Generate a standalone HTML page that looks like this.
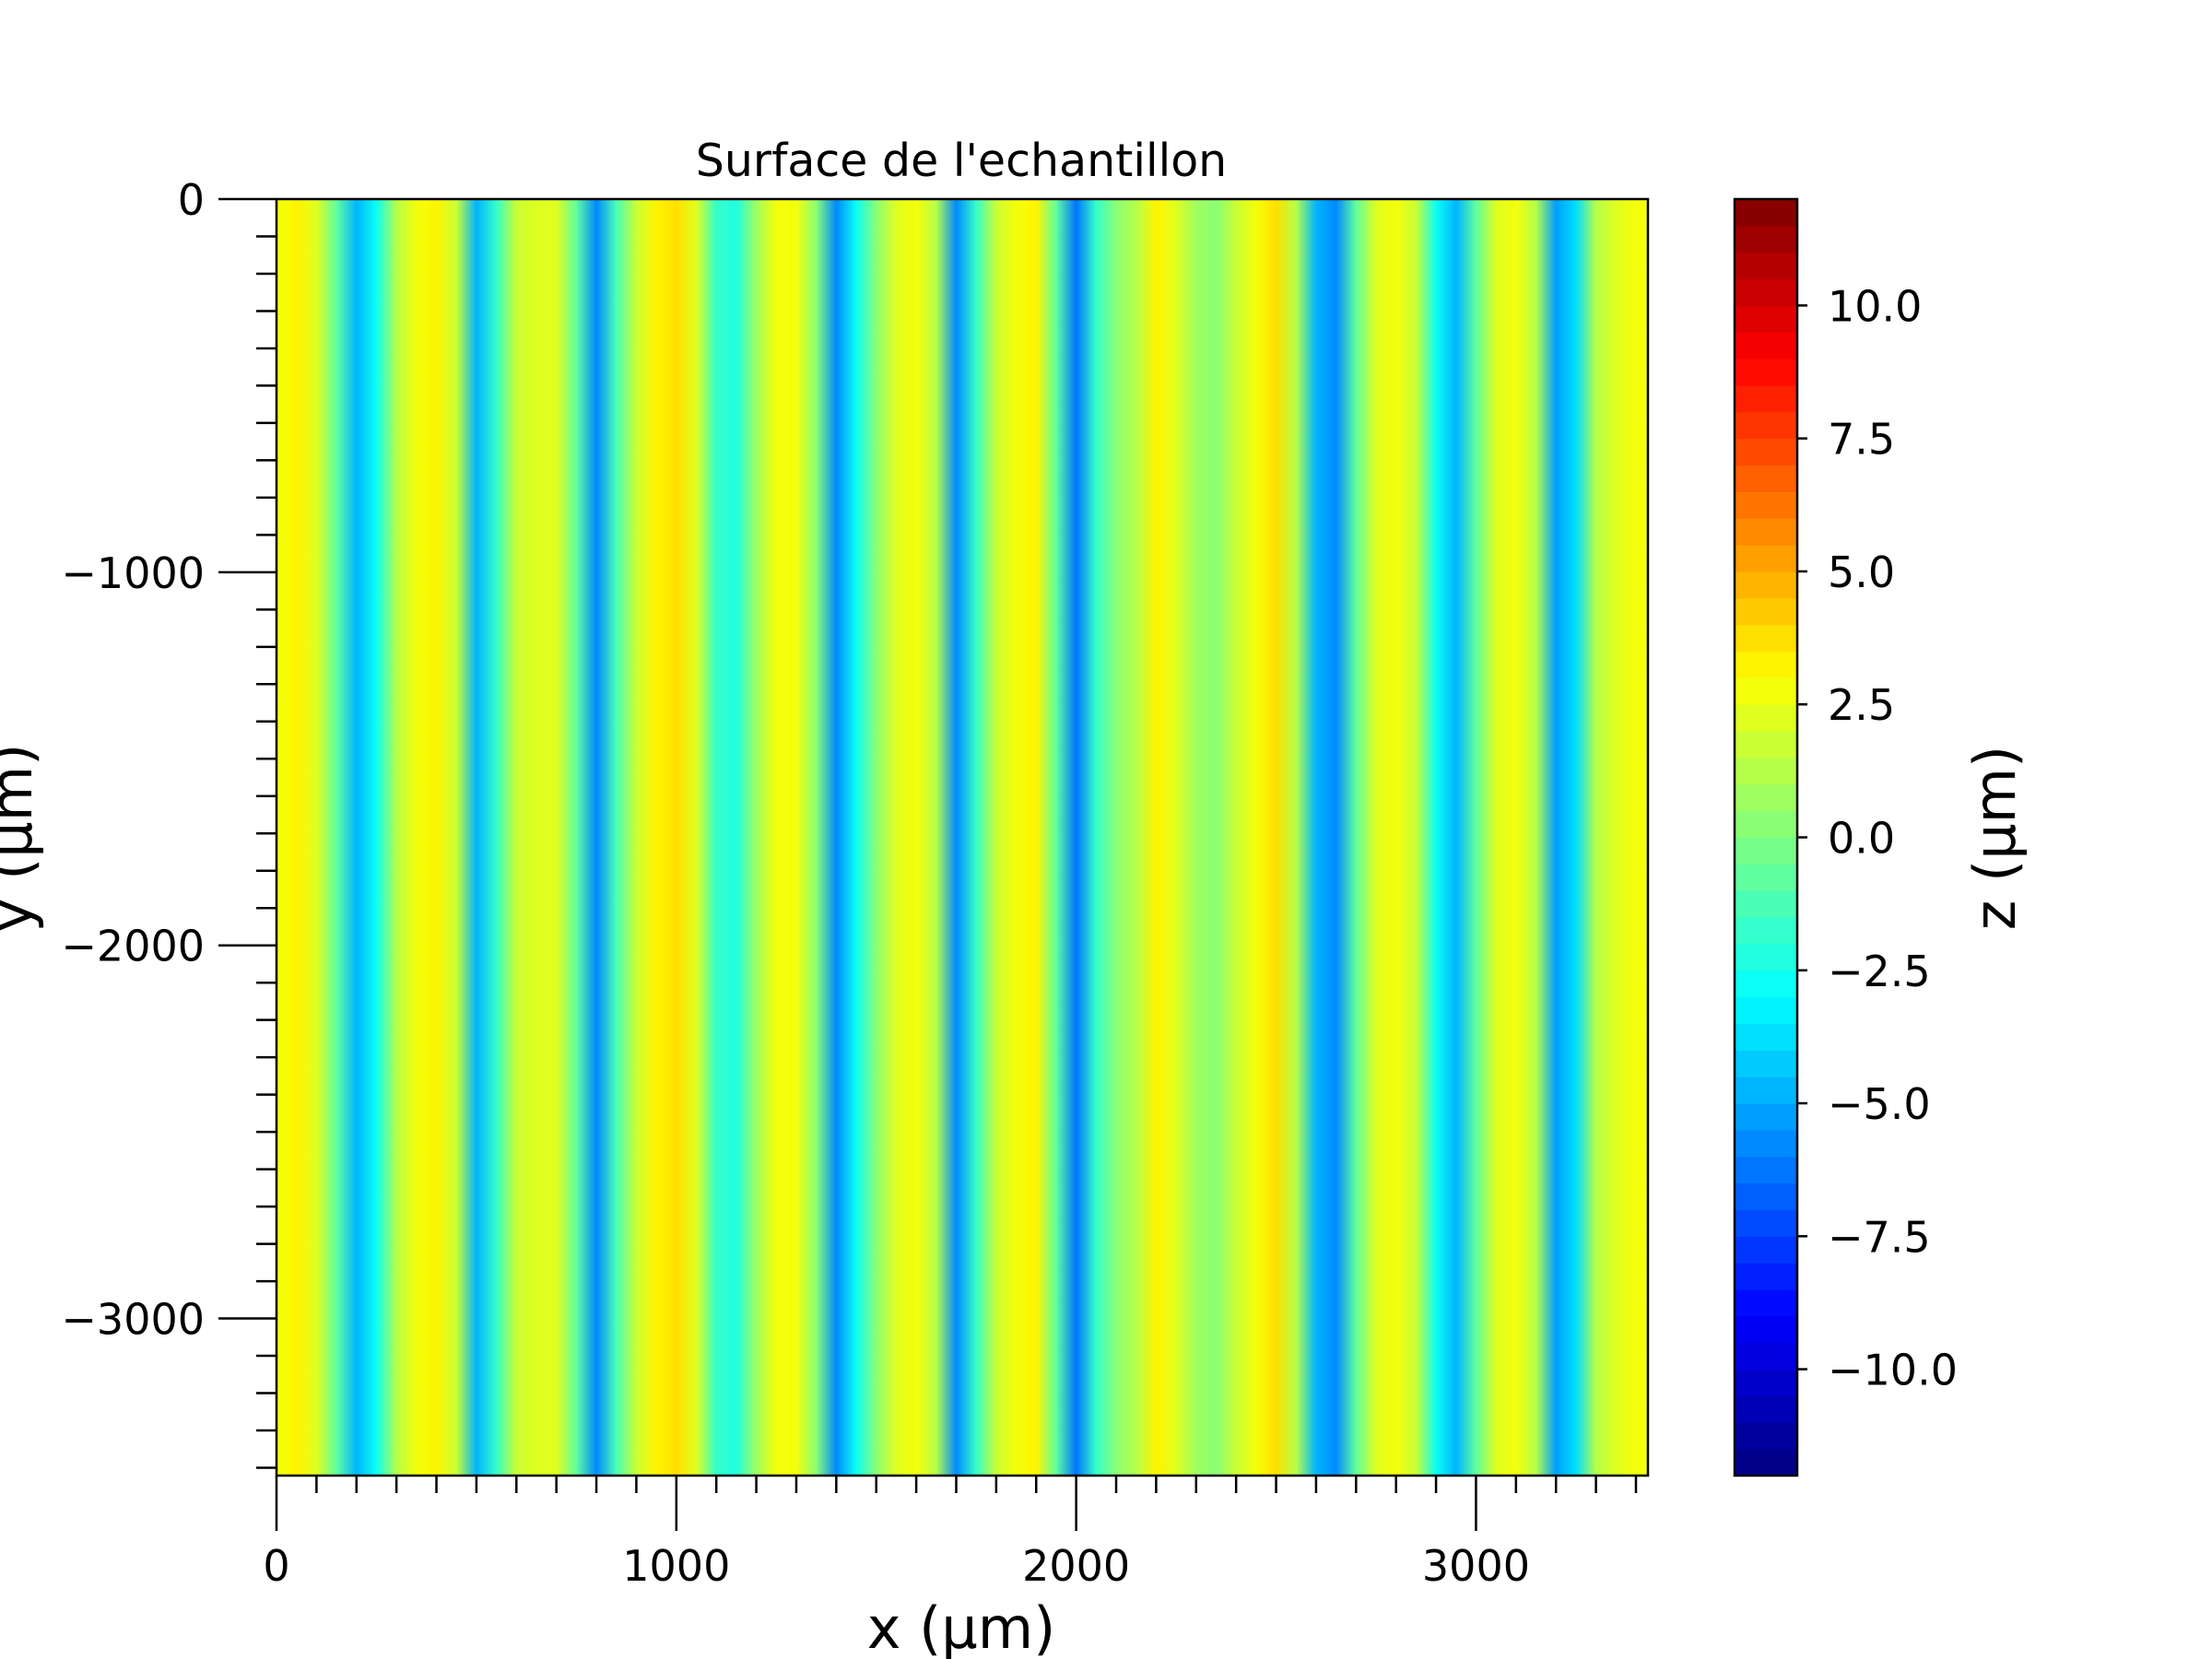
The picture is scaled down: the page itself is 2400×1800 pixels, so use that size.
<!DOCTYPE html>
<html><head><meta charset="utf-8"><style>
html,body{margin:0;padding:0;background:#fff}
svg{display:block;font-family:"DejaVu Sans","Liberation Sans",sans-serif}
</style></head><body>
<svg id="c" width="2400" height="1800" viewBox="0 0 2400 1800" xmlns="http://www.w3.org/2000/svg">
<defs><linearGradient id="hg" x1="0" x2="1" y1="0" y2="0"></linearGradient></defs>
<text x="1043" y="191" font-size="49" text-anchor="middle">Surface de l'echantillon</text>
<g id="plot"></g>
<g id="axes"></g>
<text x="1043" y="1788" font-size="62" text-anchor="middle">x (µm)</text>
<text transform="translate(34,909) rotate(-90)" font-size="62" text-anchor="middle">y (µm)</text>
<text transform="translate(2186,909) rotate(-90)" font-size="62" text-anchor="middle">z (µm)</text>
</svg>
<script>
const xPositions = [0,50,100,150,200,250,300,350,400,450,500,550,600,650,700,750,800,850,900,950,1000,1050,1100,1150,1200,1250,1300,1350,1400,1450,1500,1550,1600,1650,1700,1750,1800,1850,1900,1950,2000,2050,2100,2150,2200,2250,2300,2350,2400,2450,2500,2550,2600,2650,2700,2750,2800,2850,2900,2950,3000,3050,3100,3150,3200,3250,3300,3350,3400];
const zProfile = [2.5,3,2,-1,-5,-3,1,2.5,3,1.5,-5,-2,1.5,2,2,-1,-6,-1.5,1.5,3,3.5,2,-2,-2.5,0.5,2.5,2.5,0,-6,-3,0,2,2.5,1,-6,-2,1.5,2.5,3,-1,-6.5,-2,0,1,3,2,0.5,0,1.5,2.5,3.5,1,-5,-6,-1,2,2.5,1.5,-3,-5,-1,2,2.5,1,-5.5,-4,1,2,2.5];
const xTicks = [0,1000,2000,3000];
const yTicks = [0,-1000,-2000,-3000];
const cbTicks = [-10,-7.5,-5,-2.5,0,2.5,5,7.5,10];
const X0=300,X1=1788,Y0=216,Y1=1601,XMAX=3430,YMIN=-3421,ZMIN=-12,ZMAX=12;
const CB0=1882,CB1=1950;
const sx=v=>X0+(X1-X0)*v/XMAX;
const sy=v=>Y0+(Y1-Y0)*v/YMIN;
const sz=v=>Y1-(Y1-Y0)*(v-ZMIN)/(ZMAX-ZMIN);
function jet(t){const c=x=>Math.max(0,Math.min(1,x));
 const r=c(1.5-Math.abs(4*t-3)),g=c(1.5-Math.abs(4*t-2)),b=c(1.5-Math.abs(4*t-1));
 return `rgb(${Math.round(r*255)},${Math.round(g*255)},${Math.round(b*255)})`;}
const quant=z=>{const l=Math.floor((z-ZMIN)/0.5);return (l+0.5)/48;};
const NS='http://www.w3.org/2000/svg';
function mk(tag,attrs,parent){const e=document.createElementNS(NS,tag);for(const k in attrs)e.setAttribute(k,attrs[k]);parent.appendChild(e);return e;}
const grad=document.getElementById('hg');
xPositions.forEach((x,i)=>{mk('stop',{offset:(x/XMAX),'stop-color':jet(quant(zProfile[i]))},grad);});
const plot=document.getElementById('plot'),axes=document.getElementById('axes');
const hm=mk('rect',{x:X0,y:Y0,width:X1-X0,height:Y1-Y0,fill:'url(#hg)'},plot);


const fr=mk('rect',{x:X0,y:Y0,width:X1-X0,height:Y1-Y0,fill:'none',stroke:'#000','stroke-width':2.5},axes);


for(let v=0;v<=3400;v+=100){const M=v%1000===0;mk('line',{x1:sx(v),x2:sx(v),y1:Y1,y2:Y1+(M?60:19),stroke:'#000','stroke-width':2.5},axes);}
for(let v=0;v>=-3400;v-=100){const M=v%1000===0;mk('line',{x1:X0-(M?63:22),x2:X0,y1:sy(v),y2:sy(v),stroke:'#000','stroke-width':2.5},axes);}
xTicks.forEach(v=>{const t=mk('text',{x:sx(v),y:1715,'font-size':46,'text-anchor':'middle'},axes);t.textContent=String(v);
 
 });
yTicks.forEach(v=>{const t=mk('text',{x:222,y:sy(v)+17,'font-size':46,'text-anchor':'end'},axes);t.textContent=(v<0?'\u2212':'')+Math.abs(v);
 
 });
const cb=mk('g',{},axes);


for(let l=0;l<48;l++){const z0=ZMIN+l*0.5;mk('rect',{x:CB0,y:sz(z0+0.5),width:CB1-CB0,height:sz(z0)-sz(z0+0.5)+0.6,fill:jet((l+0.5)/48)},cb);}
mk('rect',{x:CB0,y:Y0,width:CB1-CB0,height:Y1-Y0,fill:'none',stroke:'#000','stroke-width':2.5},cb);
cbTicks.forEach(v=>{mk('line',{x1:CB1,x2:CB1+11,y1:sz(v),y2:sz(v),stroke:'#000','stroke-width':2.5},cb);
 const t=mk('text',{x:1983,y:sz(v)+17,'font-size':46},cb);t.textContent=(v<0?'\u2212':'')+Math.abs(v).toFixed(1);
 
 });
</script>
</body></html>
